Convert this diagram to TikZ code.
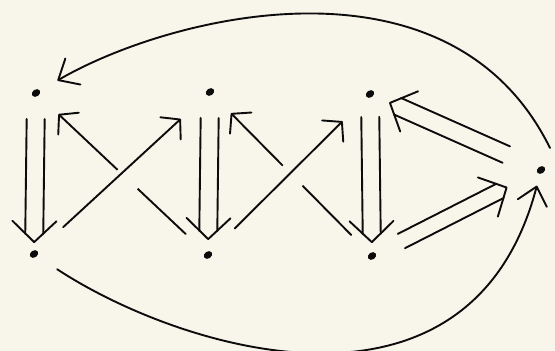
\documentclass[tikz,border=0pt]{standalone}
\usepackage{xcolor}
\usepackage{tikz}
\usetikzlibrary{arrows.meta, calc, shapes.geometric}
\definecolor{paper}{RGB}{248, 246, 234}
\definecolor{ink}{RGB}{12, 12, 12}

\tikzset{
    dot/.style={ellipse, fill=ink, inner sep=0pt, minimum width=9pt, minimum height=7pt, rotate=35},
    link/.style={draw=ink, line width=1.9pt, line cap=round,
        -{Straight Barb[length=13pt, width=30pt, line width=1.9pt, round]}},
    rail/.style={draw=ink, line width=1.9pt, line cap=round},
    head/.style={draw=paper, line width=1pt,
        -{Straight Barb[color=ink, length=21pt, width=44pt, line width=1.9pt, round]}},
    gap/.style={draw=paper, line width=8pt},
    bow/.style={draw=ink, line width=1.9pt, line cap=round,
        -{Straight Barb[length=17pt, width=30pt, line width=1.9pt, round]}}
}

\begin{document}
\begin{tikzpicture}[x=1pt, y=-1pt]
    \fill[paper] (0,0) rectangle (555,351);
    \useasboundingbox (0,0) rectangle (555,351);

    % top row, bottom row and the point on the right
    \node[dot] (t1) at (36,93) {};
    \node[dot] (t2) at (210,92) {};
    \node[dot] (t3) at (370,94) {};
    \node[dot] (b1) at (34,254) {};
    \node[dot] (b2) at (208,255) {};
    \node[dot] (b3) at (372,256) {};
    \node[dot] (c) at (541,170) {};

    % down the columns
    \foreach \s in {-9pt,9pt} {
        \draw[rail] ($(t1)!26pt!(b1)!\s!90:(b1)$) -- ($(b1)!20pt!(t1)!\s!-90:(t1)$);
        \draw[rail] ($(t2)!26pt!(b2)!\s!90:(b2)$) -- ($(b2)!24pt!(t2)!\s!-90:(t2)$);
        \draw[rail] ($(t3)!23pt!(b3)!\s!90:(b3)$) -- ($(b3)!22pt!(t3)!\s!-90:(t3)$);
    }
    \draw[head, shorten <=22pt, shorten >=7pt] (t1) -- (b1);
    \draw[head, shorten <=22pt, shorten >=11pt] (t2) -- (b2);
    \draw[head, shorten <=19pt, shorten >=9pt] (t3) -- (b3);

    % crossings, the lower ones broken
    \draw[link, shorten <=27pt, shorten >=27pt] (b2) -- (t1);
    \draw[link, shorten <=26pt, shorten >=26pt] (b3) -- (t2);
    \draw[gap] ($(b2)!0.41!(t1)$) -- ($(b2)!0.525!(t1)$);
    \draw[gap] ($(b3)!0.43!(t2)$) -- ($(b3)!0.55!(t2)$);
    \draw[link, shorten <=35pt, shorten >=35pt] (b1) -- (t2);
    \draw[link, shorten <=33pt, shorten >=34pt] (b2) -- (t3);

    % to and from the right
    \foreach \s in {-9pt,9pt} {
        \draw[rail] ($(c)!38pt!(t3)!\s!90:(t3)$) -- ($(t3)!30pt!(c)!\s!-90:(c)$);
    }
    \foreach \s in {-8pt,8pt} {
        \draw[rail] ($(b3)!33pt!(c)!\s!90:(c)$) -- ($(c)!46pt!(b3)!\s!-90:(b3)$);
    }
    \draw[head, shorten <=34pt, shorten >=17pt] (c) -- (t3);
    \draw[head, shorten <=29pt, shorten >=33pt] (b3) -- (c);

    % long arcs
    \draw[bow, shorten >=20pt] ([xshift=9pt, yshift=22pt]c.center) .. controls (450,-55) and (170,15) .. (t1);
    \draw[bow, shorten <=24pt, shorten >=12pt] (b1) .. controls (180,350) and (470,440) .. (c);
\end{tikzpicture}
\end{document}
